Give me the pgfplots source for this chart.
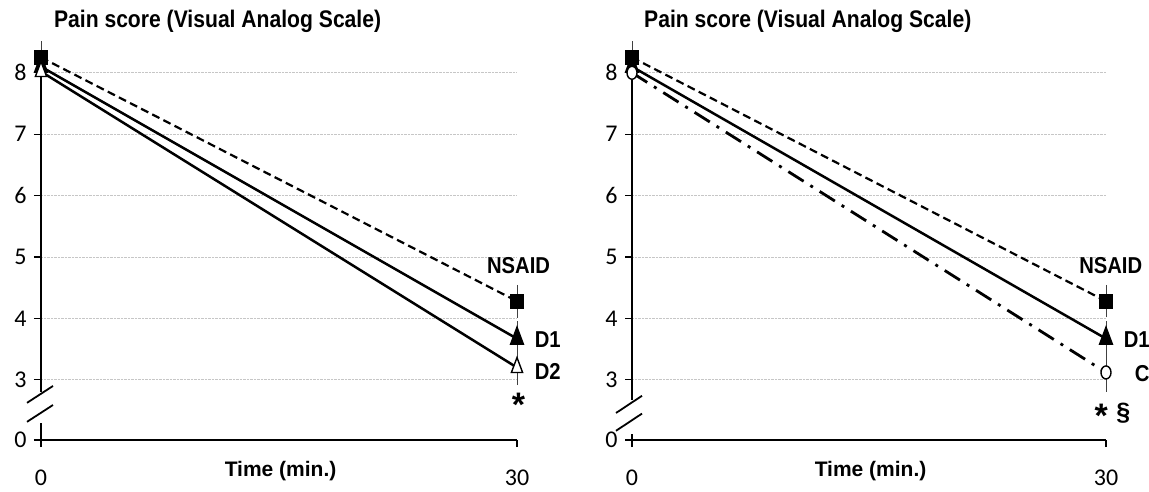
\documentclass[border=0pt]{standalone}
\usepackage{fontspec}
\setmainfont{Carlito}
\newfontfamily\nb{Liberation Sans}
\newfontfamily\nbn[FakeStretch=0.88]{Liberation Sans}
\usepackage{pgfplots}
\pgfplotsset{compat=1.18}
\pgfplotsset{panel/.style={
  scale only axis, width=476pt, height=401pt,
  xmin=0, xmax=30, ymin=2.02, ymax=8.55,
  axis x line*=bottom, axis y line*=left,
  x axis line style={line width=1.8pt,-},
  y axis line style={draw=none},
  xtick={0,30}, ytick={2.02,3,4,5,6,7,8}, yticklabels={0,3,4,5,6,7,8},
  tick align=outside, major tick length=7pt,
  tick style={black, line width=1.3pt},
  ymajorgrids, grid style={densely dotted, gray!45, line width=0.8pt},
  clip=false,
  tick label style={font=\fontsize{24}{26}\selectfont},
  xticklabel style={yshift=-19pt},
  yticklabel style={xshift=-4pt},
  /pgf/number format/assume math mode=true,
},
ebar/.style={error bars/.cd, y dir=both, y explicit,
  error bar style={line width=0.9pt, black!75, solid},
  error mark options={line width=0.9pt, mark size=4pt, black!75, solid}},
}
\tikzset{lbl/.style={font=\nbn\bfseries\fontsize{23}{25}\selectfont},
  ttl/.style={font=\nbn\bfseries\fontsize{24}{26}\selectfont, anchor=west}}
\begin{document}
\begin{tikzpicture}
\path[use as bounding box] (-41pt,-51pt) rectangle (1108pt,440pt);
% ---------- left panel ----------
\begin{axis}[panel]
\addplot[black, line width=2.2pt, dash pattern=on 8pt off 4.5pt, mark=square*, mark size=5.5pt, mark options={solid, yscale=1.2}, ebar]
  coordinates {(0,8.25) +- (0,0.2) (30,4.28) +- (0,0.2)};
\addplot[black, line width=2.5pt, mark=triangle*, mark size=10pt, mark options={xscale=0.65}, ebar]
  coordinates {(0,8.1) +- (0,0.2) (30,3.67) +- (0,0.22)};
\addplot[black, line width=2.5pt, mark=triangle*, mark size=10pt, mark options={xscale=0.65, fill=white, line width=1.4pt}, ebar]
  coordinates {(0,8.02) +- (0,0.2) (30,3.2) +- (0,0.22)};
\draw[line width=1.8pt] (axis cs:0,2.02) -- (axis cs:0,2.30);
\draw[line width=1.8pt] (axis cs:0,2.80) -- (axis cs:0,8.3);
\draw[line width=1.8pt] ([xshift=-14pt]axis cs:0,2.625) -- ([xshift=12pt]axis cs:0,2.90);
\draw[line width=1.8pt] ([xshift=-14pt]axis cs:0,2.316) -- ([xshift=12pt]axis cs:0,2.59);
\node[ttl] at (axis cs:0.6,8.83) {Pain score (Visual Analog Scale)};
\node[lbl] at (axis cs:30.1,4.86) {NSAID};
\node[lbl, anchor=west] at (axis cs:30.9,3.65) {D1};
\node[lbl, anchor=west] at (axis cs:30.9,3.13) {D2};
\node[font=\nb\bfseries\fontsize{34}{34}\selectfont] at (axis cs:30.1,2.6) {*};
\node[font=\nb\bfseries\fontsize{21}{23}\selectfont] at (axis cs:15.1,2.02) [yshift=-31pt] {Time (min.)};
\end{axis}
% ---------- right panel ----------
\begin{axis}[panel, at={(591pt,0pt)}, width=474pt]
\addplot[black, line width=2.2pt, dash pattern=on 8pt off 4.5pt, mark=square*, mark size=5.5pt, mark options={solid, yscale=1.2}, ebar]
  coordinates {(0,8.25) +- (0,0.2) (30,4.28) +- (0,0.2)};
\addplot[black, line width=2.5pt, mark=triangle*, mark size=10pt, mark options={xscale=0.65}, ebar]
  coordinates {(0,8.1) +- (0,0.2) (30,3.67) +- (0,0.22)};
\addplot[black, line width=2.8pt, dash pattern=on 18pt off 8pt on 3pt off 8pt, mark=*, mark size=6.5pt, mark options={solid, xscale=0.77, fill=white, line width=1.4pt}, ebar]
  coordinates {(0,8.0) +- (0,0.2) (30,3.12) +- (0,0.25)};
\draw[line width=1.8pt] (axis cs:0,2.02) -- (axis cs:0,2.12);
\draw[line width=1.8pt] (axis cs:0,2.67) -- (axis cs:0,8.3);
\draw[line width=1.8pt] ([xshift=-16pt]axis cs:0,2.46) -- ([xshift=10pt]axis cs:0,2.74);
\draw[line width=1.8pt] ([xshift=-16pt]axis cs:0,2.17) -- ([xshift=10pt]axis cs:0,2.45);
\node[ttl] at (axis cs:0.55,8.83) {Pain score (Visual Analog Scale)};
\node[lbl] at (axis cs:30.3,4.86) {NSAID};
\node[lbl, anchor=west] at (axis cs:30.9,3.65) {D1};
\node[lbl, anchor=west] at (axis cs:31.6,3.1) {C};
\node[font=\nb\bfseries\fontsize{34}{34}\selectfont] at (axis cs:29.7,2.42) {*};
\node[font=\nb\bfseries\fontsize{25}{27}\selectfont] at (axis cs:31.1,2.45) {\S};
\node[font=\nb\bfseries\fontsize{21}{23}\selectfont] at (axis cs:15.1,2.02) [yshift=-31pt] {Time (min.)};
\end{axis}
\end{tikzpicture}
\end{document}
